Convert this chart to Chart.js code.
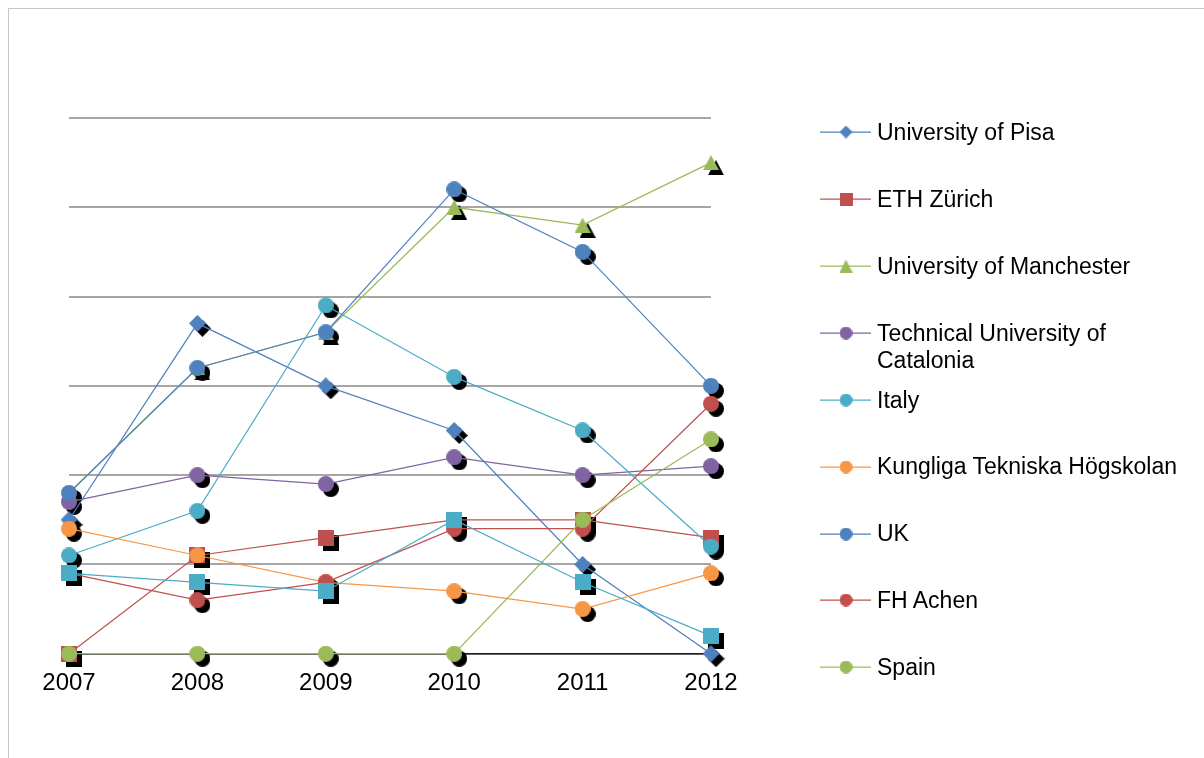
<!DOCTYPE html>
<html>
<head>
<meta charset="utf-8">
<script src="https://cdn.jsdelivr.net/npm/chart.js@4.4.1/dist/chart.umd.min.js"></script>
<style>
html,body{margin:0;padding:0;background:#fff;}
#wrap{position:relative;width:1204px;height:758px;overflow:hidden;font-family:"Liberation Sans",Arial,sans-serif;}
#frame{position:absolute;left:8px;top:8px;width:1400px;height:1000px;border:1px solid #C6C6C6;box-sizing:border-box;}
#c{position:absolute;left:0;top:0;}
#legend div{position:absolute;left:877px;width:318px;font-size:23px;line-height:26.5px;color:#000;}
#legend canvas{position:absolute;left:818px;}
</style>
</head>
<body>
<div id="wrap">
  <div id="frame"></div>
  <canvas id="c" width="1204" height="758"></canvas>
  <div id="legend"></div>
</div>
<script>
// ---- data ----
const years = ['2007', '2008', '2009', '2010', '2011', '2012'];
const seriesNames = ['University of Pisa', 'ETH Zürich', 'University of Manchester',
  'Technical University of Catalonia', 'Italy', 'Kungliga Tekniska Högskolan',
  'UK', 'FH Achen', 'Spain', 'Series 10'];
const pisa       = [15, 37, 30, 25, 10, 0];
const eth        = [0, 11, 13, 15, 15, 13];
const manchester = [18, 32, 36, 50, 48, 55];
const catalonia  = [17, 20, 19, 22, 20, 21];
const italy      = [11, 16, 39, 31, 25, 12];
const kth        = [14, 11, 8, 7, 5, 9];
const uk         = [18, 32, 36, 52, 45, 30];
const fhAchen    = [9, 6, 8, 14, 14, 28];
const spain      = [0, 0, 0, 0, 15, 24];
const series10   = [9, 8, 7, 15, 8, 2];
const seriesValues = [pisa, eth, manchester, catalonia, italy, kth, uk, fhAchen, spain, series10];
const legendShown = [true, true, true, true, true, true, true, true, true, false];
const yMin = 0, yMax = 60, yStep = 10;

// ---- styles ----
const seriesColors = ['#4F81BD', '#C0504D', '#9BBB59', '#8064A2', '#4BACC6', '#F79646',
  '#4F81BD', '#C0504D', '#9BBB59', '#4BACC6'];
const seriesMarkers = ['diamond', 'square', 'triangle', 'circle', 'circle', 'circle',
  'circle', 'circle', 'circle', 'square'];

function makeMarker(shape, color, w, h) {
  const c = document.createElement('canvas');
  c.width = w; c.height = h;
  const g = c.getContext('2d');
  g.fillStyle = color;
  g.beginPath();
  if (shape === 'circle') g.arc(w / 2, h / 2, Math.min(w, h) / 2, 0, Math.PI * 2);
  else if (shape === 'square') g.rect(0, 0, w, h);
  else if (shape === 'diamond') { g.moveTo(w / 2, 0); g.lineTo(w, h / 2); g.lineTo(w / 2, h); g.lineTo(0, h / 2); g.closePath(); }
  else if (shape === 'triangle') { g.moveTo(w / 2, 0); g.lineTo(w, h); g.lineTo(0, h); g.closePath(); }
  g.fill();
  return c;
}
const markerSize = { circle: [16, 16], square: [16, 16], diamond: [17, 17], triangle: [16, 15] };
const pointImgs = seriesMarkers.map((m, i) => makeMarker(m, seriesColors[i], markerSize[m][0], markerSize[m][1]));
const shadowImgs = seriesMarkers.map((m) => makeMarker(m, '#000000', markerSize[m][0], markerSize[m][1]));

const shadowPlugin = {
  id: 'markerShadow',
  beforeDatasetsDraw(chart) {
    const ctx = chart.ctx;
    ctx.save();
    chart.data.datasets.forEach((ds, i) => {
      const meta = chart.getDatasetMeta(i);
      if (meta.hidden) return;
      const img = shadowImgs[i];
      meta.data.forEach((pt) => {
        ctx.drawImage(img, pt.x + 5 - img.width / 2, pt.y + 5 - img.height / 2);
      });
    });
    ctx.restore();
  }
};

Chart.defaults.font.family = '"Liberation Sans", Arial, sans-serif';

const datasets = seriesValues.map((vals, i) => ({
  label: seriesNames[i],
  data: vals,
  borderColor: seriesColors[i],
  backgroundColor: seriesColors[i],
  borderWidth: 1.25,
  pointStyle: pointImgs[i],
  pointRadius: 8,
  tension: 0,
  clip: false,
  order: seriesValues.length - i
}));

new Chart(document.getElementById('c'), {
  type: 'line',
  data: { labels: years, datasets: datasets },
  options: {
    responsive: false,
    animation: false,
    events: [],
    layout: { padding: { top: 118, left: 69, right: 493, bottom: 45.5 } },
    plugins: { legend: { display: false }, tooltip: { enabled: false }, title: { display: false } },
    scales: {
      x: {
        offset: false,
        grid: { display: false, drawTicks: false },
        border: { display: true, color: '#1e1e1e', width: 1.5 },
        ticks: { color: '#000', font: { size: 24 }, padding: 15, maxRotation: 0, autoSkip: false }
      },
      y: {
        min: yMin, max: yMax,
        ticks: { display: false, stepSize: yStep },
        grid: { color: '#A6A6A6', lineWidth: 2, drawTicks: false },
        border: { display: false }
      }
    }
  },
  plugins: [shadowPlugin]
});

// ---- legend ----
const legendEl = document.getElementById('legend');
let k = 0;
seriesNames.forEach((name, i) => {
  if (!legendShown[i]) return;
  const cy = 132.3 + k * 66.87;
  k++;
  const sym = document.createElement('canvas');
  sym.width = 56; sym.height = 20;
  sym.style.top = Math.round(cy - 10) + 'px';
  const g = sym.getContext('2d');
  g.strokeStyle = seriesColors[i];
  g.lineWidth = 1.25;
  g.beginPath(); g.moveTo(2, 10); g.lineTo(53, 10); g.stroke();
  const m = makeMarker(seriesMarkers[i], seriesColors[i], 13, 13);
  g.drawImage(m, 28 - m.width / 2, 10 - m.height / 2);
  legendEl.appendChild(sym);
  const t = document.createElement('div');
  t.textContent = name;
  t.style.top = Math.round(cy - 13.25) + 'px';
  legendEl.appendChild(t);
});
</script>
</body>
</html>
